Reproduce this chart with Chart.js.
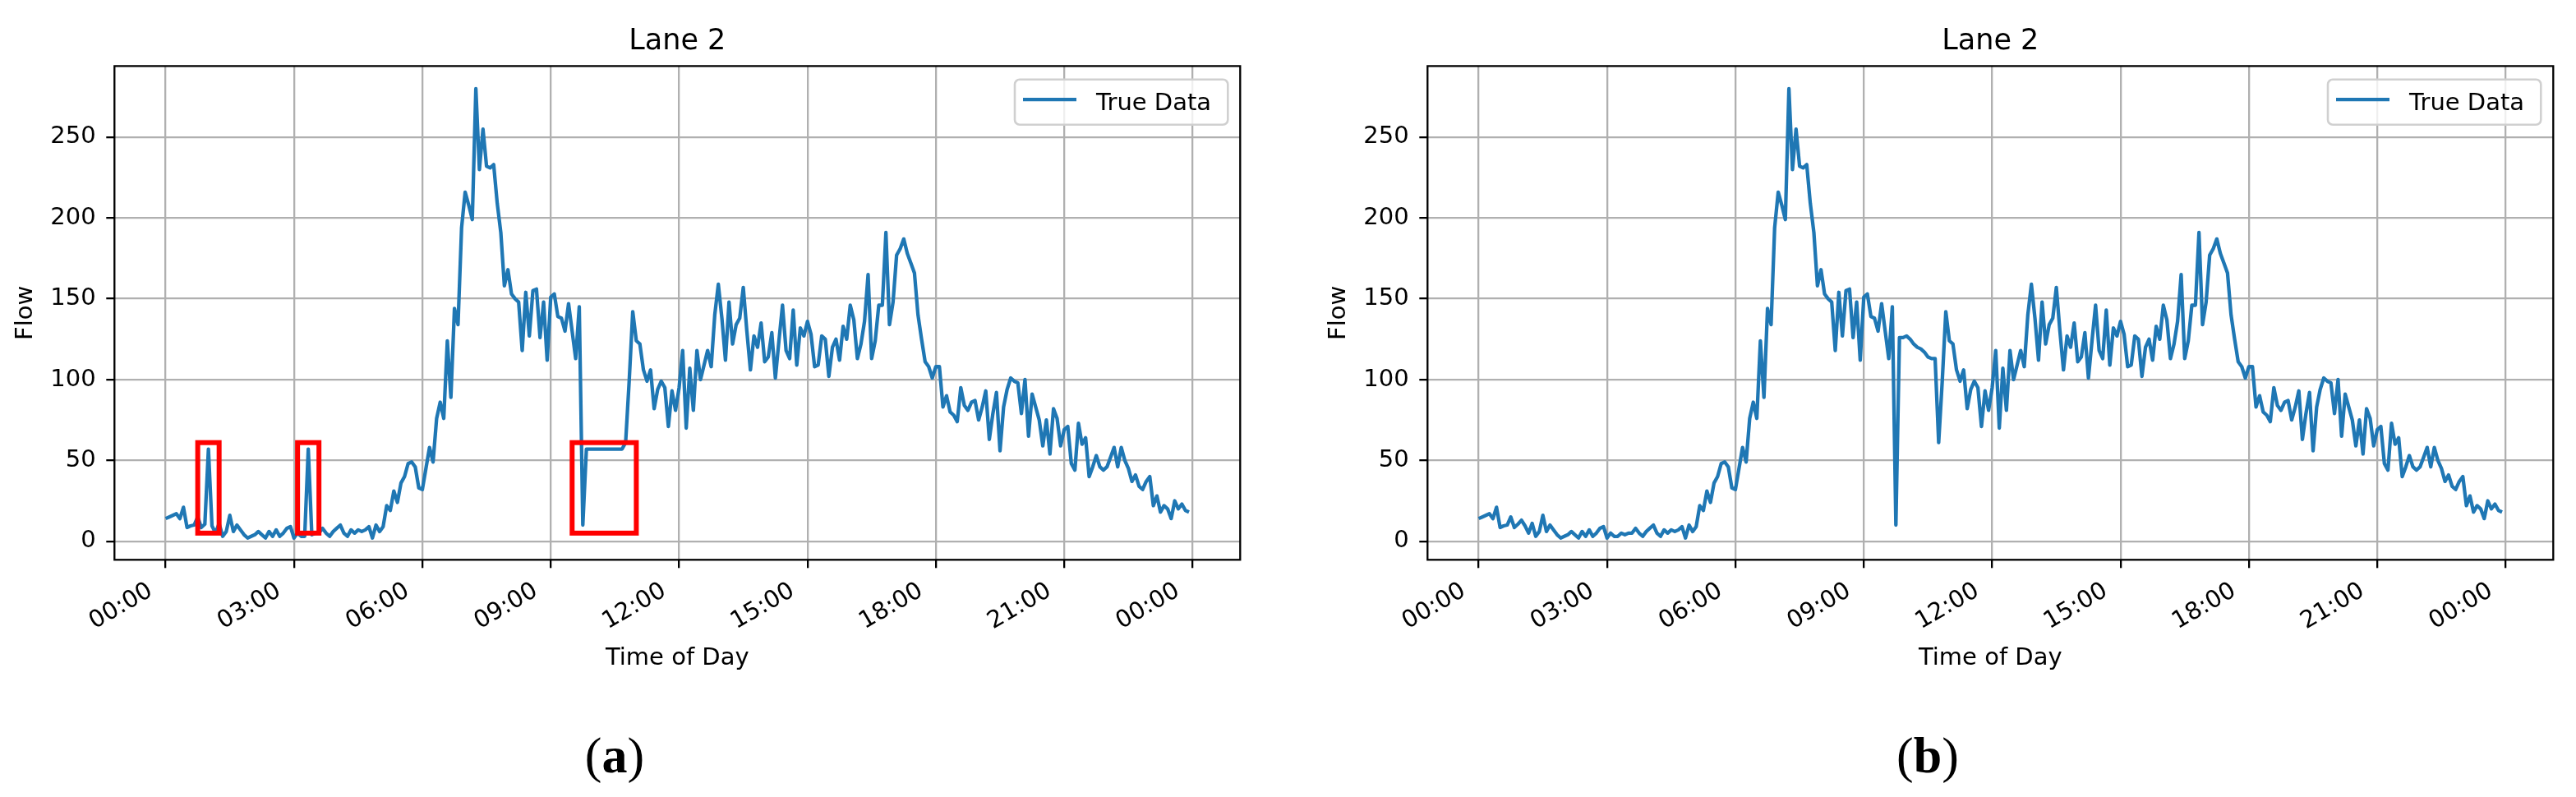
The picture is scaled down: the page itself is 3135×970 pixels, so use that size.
<!DOCTYPE html>
<html>
<head>
<meta charset="utf-8">
<title>Lane 2 flow</title>
<script src="https://cdn.jsdelivr.net/npm/chart.js@4.4.1/dist/chart.umd.min.js"></script>
<style>
  html, body { margin: 0; padding: 0; background: #fff; }
  #figure { position: relative; width: 3135px; height: 970px; }
  #figure canvas { position: absolute; top: 0; }
</style>
</head>
<body>
<div id="figure">
  <canvas id="chartA" width="1537" height="970" style="left:0px"></canvas>
  <canvas id="chartB" width="1537" height="970" style="left:1598px"></canvas>
</div>
<script>
// one reading every 5 minutes, 00:00 .. 23:55
const stepMinutes = 5;

// (a) raw detector flow, with the flagged anomalies
const flowRaw = [
  14, 15, 16, 17, 14, 21, 8.5, 9.5, 10, 15,
  8.5, 10.5, 57, 9.5, 5, 11, 3, 6, 16, 6,
  10, 7, 4, 2, 3, 4, 6, 4, 2, 6,
  3, 7, 3, 5, 8, 9, 2, 5, 3, 3,
  57, 4, 5, 5, 8, 5, 3, 6, 8, 10,
  5, 3, 7, 5, 7, 6, 7, 9, 2, 10,
  6, 9, 22, 19, 31, 24, 36, 40, 48, 49,
  46, 33, 32, 45, 58, 49, 76, 86, 76, 124,
  89, 144, 134, 194, 216, 208, 199, 280, 230, 255,
  232, 231, 233, 209, 191, 158, 168, 153, 150, 148,
  118, 154, 127, 155, 156, 126, 148, 112, 151, 153,
  139, 138, 130, 147, 130, 113, 145, 10, 57, 57,
  57, 57, 57, 57, 57, 57, 57, 57, 57, 61,
  99, 142, 124, 122, 106, 99, 106, 82, 94, 99,
  95, 71, 93, 81, 95, 118, 70, 107, 81, 118,
  100, 109, 118, 108, 140, 159, 138, 112, 148, 122,
  134, 138, 157, 130, 106, 127, 120, 135, 111, 114,
  129, 101, 124, 146, 118, 113, 143, 109, 132, 127,
  136, 128, 108, 109, 127, 125, 102, 120, 125, 112,
  133, 125, 146, 137, 113, 122, 136, 165, 113, 124,
  146, 146, 191, 134, 148, 177, 181, 187, 178, 172,
  166, 140, 125, 111, 108, 101, 108, 108, 83, 90,
  80, 78, 74, 95, 84, 81, 86, 87, 75, 83,
  93, 63, 79, 92, 56, 83, 94, 101, 99, 98,
  79, 100, 65, 91, 83, 75, 59, 75, 54, 82,
  76, 59, 69, 71, 48, 44, 73, 60, 64, 40,
  46, 53, 46, 44, 46, 52, 58, 46, 58, 50,
  45, 37, 41, 34, 32, 37, 40, 22, 28, 18,
  22, 20, 14, 25, 20, 23, 19, 18
];

// (b) same day after the anomalies were repaired
const flowRepaired = [
  14, 15, 16, 17, 14, 21, 8.5, 9.5, 10, 15,
  8.5, 10.5, 13, 9.5, 5, 11, 3, 6, 16, 6,
  10, 7, 4, 2, 3, 4, 6, 4, 2, 6,
  3, 7, 3, 5, 8, 9, 2, 5, 3, 3,
  5, 4, 5, 5, 8, 5, 3, 6, 8, 10,
  5, 3, 7, 5, 7, 6, 7, 9, 2, 10,
  6, 9, 22, 19, 31, 24, 36, 40, 48, 49,
  46, 33, 32, 45, 58, 49, 76, 86, 76, 124,
  89, 144, 134, 194, 216, 208, 199, 280, 230, 255,
  232, 231, 233, 209, 191, 158, 168, 153, 150, 148,
  118, 154, 127, 155, 156, 126, 148, 112, 151, 153,
  139, 138, 130, 147, 130, 113, 145, 10, 126, 126,
  127, 125, 122, 120, 119, 117, 114, 113, 113, 61,
  99, 142, 124, 122, 106, 99, 106, 82, 94, 99,
  95, 71, 93, 81, 95, 118, 70, 107, 81, 118,
  100, 109, 118, 108, 140, 159, 138, 112, 148, 122,
  134, 138, 157, 130, 106, 127, 120, 135, 111, 114,
  129, 101, 124, 146, 118, 113, 143, 109, 132, 127,
  136, 128, 108, 109, 127, 125, 102, 120, 125, 112,
  133, 125, 146, 137, 113, 122, 136, 165, 113, 124,
  146, 146, 191, 134, 148, 177, 181, 187, 178, 172,
  166, 140, 125, 111, 108, 101, 108, 108, 83, 90,
  80, 78, 74, 95, 84, 81, 86, 87, 75, 83,
  93, 63, 79, 92, 56, 83, 94, 101, 99, 98,
  79, 100, 65, 91, 83, 75, 59, 75, 54, 82,
  76, 59, 69, 71, 48, 44, 73, 60, 64, 40,
  46, 53, 46, 44, 46, 52, 58, 46, 58, 50,
  45, 37, 41, 34, 32, 37, 40, 22, 28, 18,
  22, 20, 14, 25, 20, 23, 19, 18
];

const hourTicks = [0, 180, 360, 540, 720, 900, 1080, 1260, 1440];
const hourLabels = ['00:00', '03:00', '06:00', '09:00', '12:00', '15:00', '18:00', '21:00', '00:00'];
const flowTicks = [0, 50, 100, 150, 200, 250];

// anomaly windows marked in (a): [start, end] in minutes, and their flow span
const anomalyWindows = [[45, 75], [185, 215], [570, 660]];
const anomalyFlowSpan = [5, 61];

const panelLabels = ['(a)', '(b)'];

Chart.defaults.font.family = "'DejaVu Sans', sans-serif";
Chart.defaults.color = '#000';

// red boxes, full frame, matplotlib-like legend and the panel letter
const figureExtras = {
  id: 'figureExtras',
  afterDatasetsDraw(chart, args, opts) {
    const { ctx, chartArea: a, scales: { x, y } } = chart;
    ctx.save();

    ctx.strokeStyle = '#ff0000';
    ctx.lineWidth = 6;
    (opts.boxes || []).forEach(w => {
      const x0 = x.getPixelForValue(w[0]);
      const x1 = x.getPixelForValue(w[1]);
      const y0 = y.getPixelForValue(anomalyFlowSpan[1]);
      const y1 = y.getPixelForValue(anomalyFlowSpan[0]);
      ctx.strokeRect(x0, y0, x1 - x0, y1 - y0);
    });

    // spines
    ctx.strokeStyle = '#000';
    ctx.lineWidth = 2.3;
    ctx.strokeRect(a.left, a.top, a.right - a.left, a.bottom - a.top);

    // legend box, upper right
    const ds = chart.data.datasets[0];
    const lx = a.right - 274.3, ly = a.top + 16.3;
    ctx.beginPath();
    ctx.roundRect(lx, ly, 259.3, 55.1, 6);
    ctx.fillStyle = 'rgba(255,255,255,0.8)';
    ctx.fill();
    ctx.strokeStyle = '#d0d0d0';
    ctx.lineWidth = 2.6;
    ctx.stroke();

    ctx.beginPath();
    ctx.moveTo(a.right - 264.3, a.top + 40.8);
    ctx.lineTo(a.right - 199.3, a.top + 40.8);
    ctx.strokeStyle = ds.borderColor;
    ctx.lineWidth = 4.3;
    ctx.stroke();

    ctx.fillStyle = '#000';
    ctx.font = "29px 'DejaVu Sans'";
    ctx.textAlign = 'left';
    ctx.textBaseline = 'alphabetic';
    ctx.fillText(ds.label, a.right - 175.3, a.top + 53.9);
    ctx.restore();
  },
  afterDraw(chart, args, opts) {
    if (!opts.panel) return;
    const { ctx } = chart;
    const text = opts.panel;
    const parts = [
      [text.slice(0, 1), 'normal'],
      [text.slice(1, -1), 'bold'],
      [text.slice(-1), 'normal']
    ];
    ctx.save();
    ctx.fillStyle = '#000';
    ctx.textBaseline = 'alphabetic';
    ctx.textAlign = 'left';
    let total = 0;
    parts.forEach(p => {
      ctx.font = p[1] + " 62px 'Liberation Serif', serif";
      p.push(ctx.measureText(p[0]).width);
      total += p[2];
    });
    let cx = 748 - total / 2;
    parts.forEach(p => {
      ctx.font = p[1] + " 62px 'Liberation Serif', serif";
      ctx.fillText(p[0], cx, 940);
      cx += p[2];
    });
    ctx.restore();
  }
};

function makeChart(canvasId, values, boxes, panel) {
  const points = values.map((v, i) => ({ x: i * stepMinutes, y: v }));
  return new Chart(document.getElementById(canvasId), {
    type: 'line',
    data: {
      datasets: [{
        label: 'True Data',
        data: points,
        borderColor: '#1f77b4',
        borderWidth: 4.3,
        borderJoinStyle: 'round',
        pointRadius: 0,
        tension: 0,
        fill: false
      }]
    },
    options: {
      responsive: false,
      animation: false,
      devicePixelRatio: 1,
      events: [],
      layout: { padding: { left: 0, right: 27.7, top: 0, bottom: 0 } },
      plugins: {
        legend: { display: false },
        tooltip: { enabled: false },
        title: {
          display: true,
          fullSize: false,
          text: 'Lane 2',
          color: '#000',
          font: { size: 35, weight: 'normal' },
          padding: { top: 30.2, bottom: 8.2 }
        },
        figureExtras: { boxes: boxes, panel: panel }
      },
      scales: {
        x: {
          type: 'linear',
          min: -71.75,
          max: 1506.75,
          afterBuildTicks: s => { s.ticks = hourTicks.map(v => ({ value: v })); },
          afterFit: s => { s.height = 288.7; },
          grid: { color: '#b0b0b0', lineWidth: 2.3, tickColor: '#000', tickWidth: 2.3, tickLength: 10 },
          border: { display: false },
          ticks: {
            autoSkip: false,
            minRotation: 30,
            maxRotation: 30,
            labelOffset: -18,
            padding: 11,
            font: { size: 29 },
            color: '#000',
            callback: (v, i) => hourLabels[i]
          },
          title: {
            display: true,
            text: 'Time of Day',
            color: '#000',
            font: { size: 29 },
            padding: { top: 0, bottom: 151.1 }
          }
        },
        y: {
          type: 'linear',
          min: -11.5,
          max: 294,
          afterBuildTicks: s => { s.ticks = flowTicks.map(v => ({ value: v })); },
          afterFit: s => { s.width = 139.3; },
          grid: { color: '#b0b0b0', lineWidth: 2.3, tickColor: '#000', tickWidth: 2.3, tickLength: 10 },
          border: { display: false },
          ticks: { padding: 12.6, font: { size: 29 }, color: '#000' },
          title: {
            display: true,
            text: 'Flow',
            color: '#000',
            font: { size: 29 },
            padding: { top: 13.6, bottom: 0 }
          }
        }
      }
    },
    plugins: [figureExtras]
  });
}

makeChart('chartA', flowRaw, anomalyWindows, panelLabels[0]);
makeChart('chartB', flowRepaired, [], panelLabels[1]);
</script>
</body>
</html>
